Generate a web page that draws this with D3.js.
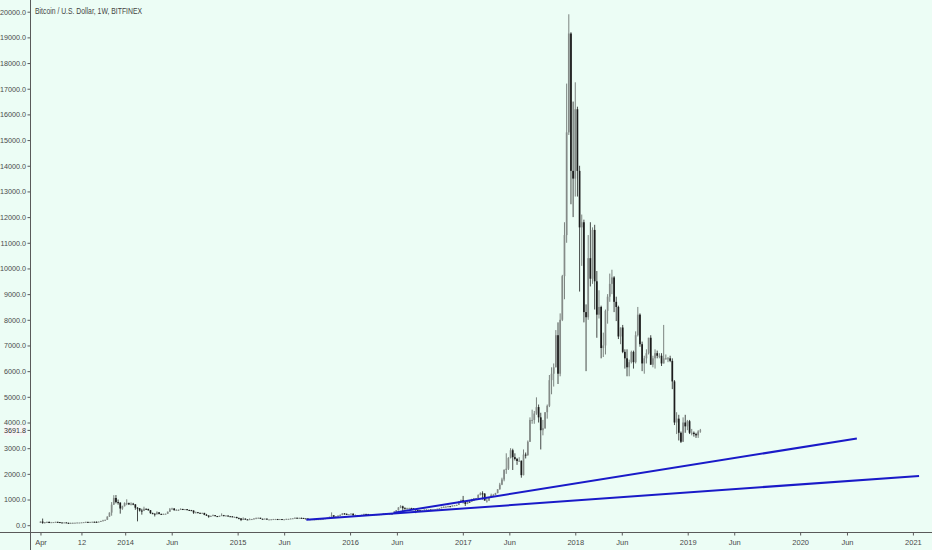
<!DOCTYPE html>
<html><head><meta charset="utf-8">
<script src="https://cdn.jsdelivr.net/npm/d3@7"></script>
<style>html,body{margin:0;padding:0;background:#ecfdf5;overflow:hidden}svg{display:block}</style>
</head><body>
<svg id="chart" width="932" height="550"></svg>
<script>
// ---------- DATA ----------
const title = "Bitcoin / U.S. Dollar, 1W, BITFINEX";
const firstWeek = "2013-04-01"; // weekly candles, one per week from this Monday
// [open, high, low, close] per week, grouped by the year the week starts in
const w2013 = [
[93,147,92,142],[142,259,55,90],[90,125,68,119],[119,145,118,125],[125,148,82,115],[115,127,105,117],[117,124,110,122],[122,133,119,131],
[131,134,112,122],[122,123,100,107],[107,110,97,99],[99,112,97,108],[108,110,88,93],[93,97,65,78],[78,99,70,90],[90,100,85,92],
[92,98,88,96],[96,106,93,104],[104,108,100,104],[104,113,100,111],[111,124,110,120],[120,135,117,130],[130,131,110,119],[119,131,118,127],
[127,135,122,133],[133,140,122,132],[132,146,106,128],[128,143,127,140],[140,169,140,165],[165,210,165,186],[186,214,180,210],[210,345,210,335],
[335,498,325,490],[490,900,370,800],[800,1170,790,1060],[1060,1175,850,900],[900,1000,800,880],[880,890,450,650],[650,760,600,740],[740,890,730,860]];
const w2014 = [
[860,1010,780,860],[860,880,790,810],[810,890,770,840],[840,870,780,810],[810,825,600,680],[680,705,150,660],[660,670,530,570],[570,640,410,560],
[560,720,550,640],[640,650,600,635],[635,640,560,585],[585,590,440,470],[470,490,430,450],[450,460,340,430],[430,540,410,500],[500,510,420,440],
[440,450,420,435],[435,450,420,440],[440,450,430,445],[445,530,440,525],[525,670,520,620],[620,680,610,650],[650,665,560,590],[590,620,570,600],
[600,610,555,600],[600,660,595,630],[630,640,605,620],[620,630,605,625],[625,630,580,595],[595,600,570,585],[585,595,560,570],[570,580,440,490],
[490,530,465,505],[505,515,475,480],[480,490,470,475],[475,485,465,480],[480,480,390,405],[405,440,370,375],[375,390,290,330],[330,370,320,365],
[365,415,360,390],[390,395,345,355],[355,360,320,330],[330,370,320,365],[365,460,360,390],[390,400,350,375],[375,385,360,375],[375,380,340,350],
[350,360,340,345],[345,350,310,320],[320,335,310,320],[320,330,270,275]];
const w2015 = [
[275,300,250,265],[265,275,160,205],[205,305,200,255],[255,265,215,225],[225,240,210,220],[220,265,215,235],[235,245,225,240],[240,275,232,260],
[260,300,255,275],[275,295,270,290],[290,290,245,250],[250,255,235,245],[245,260,240,255],[255,260,220,222],[222,230,215,225],[225,240,215,230],
[230,245,220,240],[240,245,235,240],[240,245,234,238],[238,243,232,240],[240,241,222,225],[225,232,222,230],[230,252,228,245],[245,249,240,245],
[245,262,240,260],[260,275,255,270],[270,300,260,290],[290,295,270,280],[280,295,270,285],[285,297,280,282],[282,285,260,265],[265,270,258,260],
[260,262,200,230],[230,240,200,230],[230,238,225,235],[235,245,228,230],[230,235,225,232],[232,240,225,235],[235,242,233,238],[238,250,235,248],
[248,275,246,270],[270,300,265,290],[290,335,285,325],[325,500,320,385],[385,390,300,330],[330,340,315,325],[325,380,315,375],[375,420,350,400],
[400,470,390,460],[460,470,410,440],[440,460,410,425],[425,435,410,430]];
const w2016 = [
[430,460,425,450],[450,455,360,390],[390,420,370,390],[390,395,365,375],[375,380,365,375],[375,410,370,405],[405,445,400,440],[440,440,405,430],
[430,440,395,410],[410,420,400,412],[412,420,405,412],[412,420,405,415],[415,425,410,420],[420,425,415,423],[423,435,420,430],[430,460,425,455],
[455,460,440,450],[450,462,440,460],[460,465,440,455],[455,460,440,445],[445,535,440,530],[530,590,520,585],[585,700,570,690],[690,780,660,735],
[735,760,550,660],[660,700,620,640],[640,680,610,660],[660,680,650,665],[665,680,645,660],[660,665,620,625],[625,630,470,590],[590,600,575,585],
[585,590,565,580],[580,595,570,580],[580,615,570,610],[610,630,600,610],[610,615,600,610],[610,615,595,600],[600,615,595,615],[615,625,605,620],
[620,645,615,640],[640,665,630,660],[660,720,655,705],[705,740,690,710],[710,740,700,720],[720,760,700,740],[740,750,725,735],[735,775,730,765],
[765,780,750,775],[775,800,770,790],[790,930,785,920],[920,1000,890,980]];
const w2017 = [
[980,1140,850,900],[900,910,750,830],[830,930,820,920],[920,925,880,915],[915,1030,910,1020],[1020,1060,940,1000],[1000,1060,990,1055],[1055,1200,1050,1180],
[1180,1280,1160,1240],[1240,1320,1000,1230],[1230,1250,960,960],[960,1050,880,960],[960,1100,940,1090],[1090,1230,1080,1180],[1180,1220,1150,1180],[1180,1260,1170,1250],
[1250,1400,1240,1400],[1400,1650,1380,1580],[1580,1850,1560,1780],[1780,2180,1710,2150],[2150,2800,2000,2200],[2200,2650,2150,2620],[2620,3000,2600,2920],[2920,2980,2150,2650],
[2650,2800,2520,2580],[2580,2620,2350,2500],[2500,2650,2480,2510],[2510,2520,1850,1950],[1950,2950,1940,2750],[2750,2830,2600,2730],[2730,3300,2700,3250],[3250,4200,3240,4100],
[4100,4500,3950,4100],[4100,4450,3950,4350],[4350,4980,4300,4600],[4600,4700,4000,4200],[4200,4380,2950,3700],[3700,4100,3500,3780],[3780,4400,3750,4400],[4400,4700,4150,4650],
[4650,5850,4600,5650],[5650,6150,5100,5900],[5900,6300,5400,6150],[6150,7600,6150,7400],[7400,7900,5500,5900],[5900,8250,5800,8000],[8000,9750,7950,9700],[9700,11800,8800,11300],
[11300,17200,11000,15300],[15300,19900,15200,19150],[19150,19200,12500,13800],[13800,16500,12000,13500]];
const w2018 = [
[13500,17250,12800,16200],[16200,16300,12800,13800],[13800,14000,9100,11600],[11600,12100,10100,11800],[11800,11900,7900,8300],[8300,8600,6000,8100],[8100,11300,8000,10400],[10400,11800,9300,9600],
[9600,11600,9400,11500],[11500,11700,8400,9500],[9500,9900,7300,8200],[8200,9150,8050,8500],[8500,8550,6500,6900],[6900,7500,6550,7000],[7000,8400,6650,8350],[8350,9000,7850,8900],
[8900,9800,8700,9400],[9400,9950,9000,9650],[9650,9700,8300,8700],[8700,8900,7950,8500],[8500,8550,7250,7350],[7350,7700,7050,7700],[7700,7800,6700,6750],[6750,6850,6100,6500],
[6500,6850,5800,6150],[6150,6450,5800,6350],[6350,6800,6300,6750],[6750,6800,6100,6350],[6350,7550,6300,7400],[7400,8500,7350,8200],[8200,8250,6950,7050],[7050,7150,6000,6300],
[6300,6600,5900,6500],[6500,6850,6300,6700],[6700,7300,6650,7300],[7300,7400,6250,6250],[6250,6600,6150,6500],[6500,6850,6100,6700],[6700,6800,6500,6600],[6600,6700,6500,6600],
[6600,6700,6200,6300],[6300,7800,6300,6500],[6500,6650,6450,6500],[6500,6550,6350,6500],[6500,6600,6350,6400],[6400,6500,5300,5600],[5600,5650,3900,4000],[4000,4400,3550,4150],
[4150,4300,3300,3600],[3600,3650,3200,3250],[3250,4200,3250,4000],[4000,4300,3600,3850],[3850,4100,3700,4050]];
const w2019 = [
[4050,4100,3550,3600],[3600,3750,3500,3600],[3600,3650,3450,3550],[3550,3600,3400,3500],[3500,3700,3400,3650],[3650,3750,3600,3691.8]];
const lastPrice = 3691.8;

const yTicks = [0,1000,2000,3000,4000,5000,6000,7000,8000,9000,10000,11000,12000,13000,14000,15000,16000,17000,18000,19000,20000];
const xTickDates = ["2013-04-01","2013-08-12","2014-01-01","2014-06-01","2015-01-01","2015-06-01","2016-01-01","2016-06-01",
  "2017-01-01","2017-06-01","2018-01-01","2018-06-01","2019-01-01","2019-06-01","2020-01-01","2020-06-01","2021-01-01"];
const xTickLabels = ["Apr","12","2014","Jun","2015","Jun","2016","Jun","2017","Jun","2018","Jun","2019","Jun","2020","Jun","2021"];

// trend lines: [date, price] endpoints
const trendA = [["2016-05-23", 490], ["2020-07-03", 3380]];
const trendB = [["2015-08-12", 215], ["2021-01-21", 1920]];

// ---------- CHART ----------
const W = 932, H = 550;
const FONT = "'Liberation Sans Narrow','Arial Narrow','Liberation Sans',sans-serif";
const TXT = "#4a4a4a", AX = "#5a5a5a";
const parse = d3.utcParse("%Y-%m-%d");
const svg = d3.select("#chart");
svg.append("rect").attr("width", W).attr("height", H).attr("fill", "#ecfdf5");

const x = d3.scaleUtc().domain([parse("2013-02-26"), parse("2021-03-04")]).range([30, W]);
const y = d3.scaleLinear().domain([0, 20000]).range([525.2, 11.7]);

const rows = [].concat(w2013, w2014, w2015, w2016, w2017, w2018, w2019);
const start = parse(firstWeek);
const candles = rows.map((r, i) => ({date: d3.utcDay.offset(start, 7 * i), o: r[0], h: r[1], l: r[2], c: r[3]}));

// axes lines
svg.append("line").attr("x1", 30.5).attr("x2", 30.5).attr("y1", 0).attr("y2", H).attr("stroke", AX).attr("stroke-width", 1);
svg.append("line").attr("x1", 0).attr("x2", W).attr("y1", 532.5).attr("y2", 532.5).attr("stroke", AX).attr("stroke-width", 1);

// Y axis
const yAxis = svg.append("g").attr("transform", "translate(30.5,0)")
  .call(d3.axisLeft(y).tickValues(yTicks).tickFormat(d => d.toFixed(1)).tickSize(3).tickPadding(1.5));
yAxis.select(".domain").remove();
yAxis.selectAll("line").attr("stroke", AX);
yAxis.selectAll("text").attr("fill", TXT).style("font-family", FONT).style("font-size", "7.2px");

// X axis
const xAxis = svg.append("g").attr("transform", "translate(0,532.5)")
  .call(d3.axisBottom(x).tickValues(xTickDates.map(parse)).tickFormat((d, i) => xTickLabels[i]).tickSize(3).tickPadding(4));
xAxis.select(".domain").remove();
xAxis.selectAll("line").attr("stroke", AX);
xAxis.selectAll("text").attr("fill", TXT).style("font-family", FONT).style("font-size", "7.5px");

// candles
const g = svg.append("g");
const bw = 1.7;
candles.forEach(d => {
  const up = d.c >= d.o;
  const col = up ? "#858b88" : "#1c1c1c";
  const cx = x(d.date);
  g.append("line").attr("x1", cx).attr("x2", cx).attr("y1", y(d.h)).attr("y2", y(d.l))
    .attr("stroke", up ? "#5f6562" : "#1c1c1c").attr("stroke-width", 0.8);
  const top = y(Math.max(d.o, d.c)), bot = y(Math.min(d.o, d.c));
  g.append("rect").attr("x", cx - bw / 2).attr("width", bw)
    .attr("y", top).attr("height", Math.max(1, bot - top)).attr("fill", col);
});

// trend lines
const line = d3.line().x(d => x(parse(d[0]))).y(d => y(d[1]));
[trendA, trendB].forEach(t => {
  svg.append("path").attr("d", line(t)).attr("fill", "none").attr("stroke", "#1a1ac8").attr("stroke-width", 2);
});

// last price label
const ly = y(lastPrice);
svg.append("rect").attr("x", 4).attr("y", ly - 5.5).attr("width", 23).attr("height", 11).attr("fill", "#f6f6f6");
svg.append("line").attr("x1", 27.5).attr("x2", 30.5).attr("y1", ly).attr("y2", ly).attr("stroke", AX);
svg.append("text").attr("x", 26).attr("y", ly).attr("dy", "0.32em").attr("text-anchor", "end")
  .attr("fill", "#333").style("font-family", FONT).style("font-size", "7.2px").text(lastPrice.toFixed(1));

// title
svg.append("text").attr("x", 35).attr("y", 14).attr("fill", "#444")
  .attr("textLength", 107).attr("lengthAdjust", "spacingAndGlyphs")
  .style("font-family", FONT).style("font-size", "8.5px").text(title);
</script>
</body></html>
